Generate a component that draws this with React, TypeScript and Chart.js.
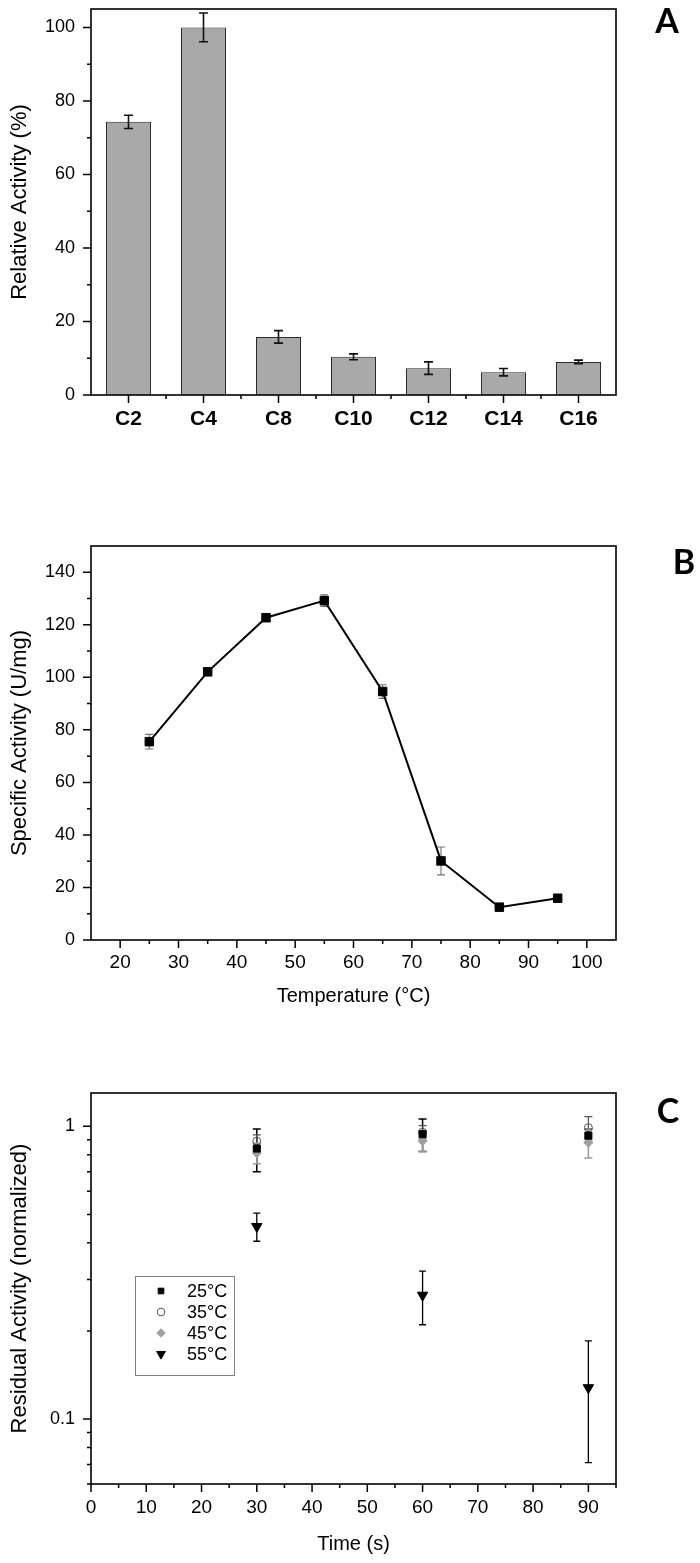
import React, { useEffect, useRef } from 'react';
import { Chart, registerables } from 'chart.js';
import { drawPoint } from 'chart.js/helpers';

Chart.register(...registerables);

const FONT = "'Liberation Sans', Arial, Helvetica, sans-serif";
const LETTER_FONT = "Lato, 'Open Sans', 'Noto Sans', sans-serif";

// ---------- Panel A data ----------
const substrates = ['C2', 'C4', 'C8', 'C10', 'C12', 'C14', 'C16'];
const relActivity = [74.3, 100, 15.8, 10.4, 7.3, 6.2, 9.0];
const relActivityErr = [1.8, 3.9, 1.7, 0.8, 1.7, 1.0, 0.5];
const aYTicks = [0, 20, 40, 60, 80, 100];
const aYMinor = [10, 30, 50, 70, 90];

// ---------- Panel B data ----------
const temperatures = [25, 35, 45, 55, 65, 75, 85, 95];
const specActivity = [75.5, 102.1, 122.7, 129.2, 94.6, 30.1, 12.5, 15.9];
const specActivityErr = [2.8, 1.2, 1.0, 2.2, 2.6, 5.3, 0.9, 1.4];
const bXTicks = [20, 30, 40, 50, 60, 70, 80, 90, 100];
const bXMinor = [25, 35, 45, 55, 65, 75, 85, 95];
const bYTicks = [0, 20, 40, 60, 80, 100, 120, 140];
const bYMinor = [10, 30, 50, 70, 90, 110, 130];

// ---------- Panel C data ----------
const times = [30, 60, 90];
const res25 = [0.84, 0.94, 0.93];
const res25Err = [0.14, 0.12, 0.05];
const res35 = [0.89, 0.955, 0.99];
const res35Err = [0.045, 0.05, 0.09];
const res45 = [0.81, 0.89, 0.88];
const res45Err = [0.065, 0.07, 0.1];
const res55 = [0.455, 0.265, 0.128];
const res55Err = [0.05, 0.055, 0.057];
const cXTicks = [0, 10, 20, 30, 40, 50, 60, 70, 80, 90];
const cXMinor = [5, 15, 25, 35, 45, 55, 65, 75, 85, 95];
const cYTicks = [0.1, 1];
const cYMinor = [0.06, 0.07, 0.08, 0.09, 0.2, 0.3, 0.4, 0.5, 0.6, 0.7, 0.8, 0.9];

type Decor = {
  letter: string;
  letterX: number;
  letterY: number;
  xMajor: number[];
  xMinor: number[];
  yMajor: number[];
  yMinor: number[];
  errors: (number[] | null)[];
  errColors: string[];
  errWidths: number[];
  capHalf: number[];
  errorsOnTop: boolean;
  legend?: { dx: number; dy: number; w: number; h: number; rowH: number; scale: number[] };
};

function makeDecor(cfg: Decor) {
  const drawErrors = (chart: any) => {
    const ctx = chart.ctx;
    ctx.save();
    chart.data.datasets.forEach((ds: any, di: number) => {
      const errs = cfg.errors[di];
      if (!errs) return;
      const meta = chart.getDatasetMeta(di);
      const yScale = chart.scales[meta.yAxisID];
      ctx.strokeStyle = cfg.errColors[di];
      ctx.lineWidth = cfg.errWidths[di];
      const half = cfg.capHalf[di];
      meta.data.forEach((el: any, i: number) => {
        const raw = ds.data[i];
        const v = typeof raw === 'number' ? raw : raw.y;
        const e = errs[i];
        const x = el.x;
        const y1 = yScale.getPixelForValue(v + e);
        const y2 = yScale.getPixelForValue(v - e);
        ctx.beginPath();
        ctx.moveTo(x, y1);
        ctx.lineTo(x, y2);
        ctx.moveTo(x - half, y1);
        ctx.lineTo(x + half, y1);
        ctx.moveTo(x - half, y2);
        ctx.lineTo(x + half, y2);
        ctx.stroke();
      });
    });
    ctx.restore();
  };

  return {
    id: 'decor' + cfg.letter,
    beforeDatasetsDraw(chart: any) {
      if (!cfg.errorsOnTop) drawErrors(chart);
    },
    afterDatasetsDraw(chart: any) {
      if (cfg.errorsOnTop) drawErrors(chart);
    },
    afterDraw(chart: any) {
      const ctx = chart.ctx;
      const a = chart.chartArea;
      const xs = chart.scales.x;
      const ys = chart.scales.y;
      ctx.save();
      ctx.strokeStyle = '#000';
      ctx.lineWidth = 1.6;
      ctx.strokeRect(a.left, a.top, a.right - a.left, a.bottom - a.top);
      ctx.lineWidth = 1.5;
      ctx.beginPath();
      const xt = (vals: number[], len: number) =>
        vals.forEach((v) => {
          const p = xs.getPixelForValue(v);
          ctx.moveTo(p, a.bottom);
          ctx.lineTo(p, a.bottom + len);
        });
      const yt = (vals: number[], len: number) =>
        vals.forEach((v) => {
          const p = ys.getPixelForValue(v);
          ctx.moveTo(a.left, p);
          ctx.lineTo(a.left - len, p);
        });
      xt(cfg.xMajor, 8);
      xt(cfg.xMinor, 4);
      yt(cfg.yMajor, 8);
      yt(cfg.yMinor, 4);
      ctx.stroke();

      // panel letter
      ctx.fillStyle = '#000';
      ctx.font = `bold 34px ${LETTER_FONT}`;
      ctx.textAlign = 'center';
      ctx.textBaseline = 'middle';
      ctx.fillText(cfg.letter, cfg.letterX, cfg.letterY);

      // legend
      if (cfg.legend) {
        const L = cfg.legend;
        const bx = a.left + L.dx;
        const by = a.top + L.dy;
        ctx.strokeStyle = '#808080';
        ctx.lineWidth = 1;
        ctx.strokeRect(bx + 0.5, by + 0.5, L.w, L.h);
        ctx.font = `18px ${FONT}`;
        ctx.textAlign = 'left';
        ctx.textBaseline = 'middle';
        chart.data.datasets.forEach((ds: any, i: number) => {
          const cy = by + 15 + L.rowH * i;
          ctx.fillStyle = ds.pointBackgroundColor;
          ctx.strokeStyle = ds.pointBorderColor;
          ctx.lineWidth = 1;
          drawPoint(
            ctx,
            {
              pointStyle: ds.pointStyle,
              rotation: ds.pointRotation || 0,
              radius: ds.pointRadius * L.scale[i],
              borderWidth: 1,
            } as any,
            bx + 26,
            cy
          );
          ctx.fillStyle = '#000';
          ctx.fillText(ds.label, bx + 52, cy + 1);
        });
      }
      ctx.restore();
    },
  };
}

function yAxis(o: {
  type: string;
  min: number;
  max: number;
  ticks: number[];
  title: string;
}) {
  return {
    type: o.type,
    min: o.min,
    max: o.max,
    bounds: 'data',
    grid: { display: false, drawTicks: false },
    border: { display: false },
    ticks: {
      padding: 16,
      color: '#000',
      font: { family: FONT, size: 18 },
      callback: (v: any) => String(v),
    },
    afterBuildTicks: (s: any) => {
      s.ticks = o.ticks.map((v) => ({ value: v }));
    },
    afterFit: (s: any) => {
      s.width = 91;
      s.paddingTop = 0;
      s.paddingBottom = 0;
    },
    title: {
      display: true,
      text: o.title,
      color: '#000',
      font: { family: FONT, size: 22 },
      padding: { top: 7, bottom: 0 },
    },
  };
}

function buildA(): any {
  return {
    type: 'bar',
    data: {
      labels: substrates,
      datasets: [
        {
          label: 'Relative Activity',
          data: relActivity,
          backgroundColor: '#a9a9a9',
          borderColor: '#2a2a2a',
          borderWidth: 1,
          barPercentage: 0.6,
          categoryPercentage: 1,
        },
      ],
    },
    options: {
      responsive: false,
      animation: false,
      layout: { padding: { left: 0, right: 84, top: 9, bottom: 0 } },
      plugins: { legend: { display: false }, tooltip: { enabled: false } },
      scales: {
        x: {
          type: 'category',
          offset: true,
          grid: { display: false, drawTicks: false, offset: true },
          border: { display: false },
          ticks: {
            padding: 12,
            color: '#000',
            font: { family: FONT, size: 21, weight: 'bold' },
          },
          afterFit: (s: any) => {
            s.height = 75;
            s.paddingLeft = 0;
            s.paddingRight = 0;
          },
        },
        y: yAxis({ type: 'linear', min: 0, max: 105, ticks: aYTicks, title: 'Relative Activity (%)' }),
      },
    },
    plugins: [
      makeDecor({
        letter: 'A',
        letterX: 667,
        letterY: 22,
        xMajor: substrates.map((_, i) => i),
        xMinor: substrates.slice(1).map((_, i) => i + 0.5),
        yMajor: aYTicks,
        yMinor: aYMinor,
        errors: [relActivityErr],
        errColors: ['#111'],
        errWidths: [1.6],
        capHalf: [4.5],
        errorsOnTop: true,
      }),
    ],
  };
}

function buildB(): any {
  return {
    type: 'line',
    data: {
      datasets: [
        {
          label: 'Specific Activity',
          data: temperatures.map((t, i) => ({ x: t, y: specActivity[i] })),
          borderColor: '#000',
          borderWidth: 2,
          pointStyle: 'rect',
          pointRadius: 6,
          pointBackgroundColor: '#000',
          pointBorderColor: '#000',
          pointBorderWidth: 1,
          tension: 0,
          fill: false,
        },
      ],
    },
    options: {
      responsive: false,
      animation: false,
      layout: { padding: { left: 0, right: 84, top: 76, bottom: 0 } },
      plugins: { legend: { display: false }, tooltip: { enabled: false } },
      scales: {
        x: {
          type: 'linear',
          min: 15,
          max: 105,
          bounds: 'data',
          grid: { display: false, drawTicks: false },
          border: { display: false },
          ticks: {
            padding: 11,
            color: '#000',
            font: { family: FONT, size: 19 },
            callback: (v: any) => String(v),
          },
          afterBuildTicks: (s: any) => {
            s.ticks = bXTicks.map((v) => ({ value: v }));
          },
          afterFit: (s: any) => {
            s.height = 90;
            s.paddingLeft = 0;
            s.paddingRight = 0;
          },
          title: {
            display: true,
            text: 'Temperature (°C)',
            color: '#000',
            font: { family: FONT, size: 20 },
            padding: { top: 0, bottom: 22 },
          },
        },
        y: yAxis({ type: 'linear', min: 0, max: 150, ticks: bYTicks, title: 'Specific Activity (U/mg)' }),
      },
    },
    plugins: [
      makeDecor({
        letter: 'B',
        letterX: 684,
        letterY: 93,
        xMajor: bXTicks,
        xMinor: bXMinor,
        yMajor: bYTicks,
        yMinor: bYMinor,
        errors: [specActivityErr],
        errColors: ['#707070'],
        errWidths: [1.1],
        capHalf: [4],
        errorsOnTop: false,
      }),
    ],
  };
}

function buildC(): any {
  const pts = (vals: number[]) => times.map((t, i) => ({ x: t, y: vals[i] }));
  return {
    type: 'scatter',
    data: {
      datasets: [
        {
          label: '25°C',
          data: pts(res25),
          pointStyle: 'rect',
          pointRadius: 5,
          pointBackgroundColor: '#000',
          pointBorderColor: '#000',
          pointBorderWidth: 1,
        },
        {
          label: '35°C',
          data: pts(res35),
          pointStyle: 'circle',
          pointRadius: 4,
          pointBackgroundColor: 'rgba(255,255,255,0)',
          pointBorderColor: '#555',
          pointBorderWidth: 1,
        },
        {
          label: '45°C',
          data: pts(res45),
          pointStyle: 'rectRot',
          pointRadius: 4.5,
          pointBackgroundColor: '#a0a0a0',
          pointBorderColor: '#a0a0a0',
          pointBorderWidth: 1,
        },
        {
          label: '55°C',
          data: pts(res55),
          pointStyle: 'triangle',
          pointRotation: 180,
          pointRadius: 6,
          pointBackgroundColor: '#000',
          pointBorderColor: '#000',
          pointBorderWidth: 1,
        },
      ],
    },
    options: {
      responsive: false,
      animation: false,
      layout: { padding: { left: 0, right: 84, top: 63, bottom: 0 } },
      plugins: { legend: { display: false }, tooltip: { enabled: false } },
      scales: {
        x: {
          type: 'linear',
          min: 0,
          max: 95,
          bounds: 'data',
          grid: { display: false, drawTicks: false },
          border: { display: false },
          ticks: {
            padding: 12,
            color: '#000',
            font: { family: FONT, size: 19 },
            callback: (v: any) => String(v),
          },
          afterBuildTicks: (s: any) => {
            s.ticks = cXTicks.map((v) => ({ value: v }));
          },
          afterFit: (s: any) => {
            s.height = 79;
            s.paddingLeft = 0;
            s.paddingRight = 0;
          },
          title: {
            display: true,
            text: 'Time (s)',
            color: '#000',
            font: { family: FONT, size: 20 },
            padding: { top: 0, bottom: 7 },
          },
        },
        y: yAxis({ type: 'logarithmic', min: 0.06, max: 1.3, ticks: cYTicks, title: 'Residual Activity (normalized)' }),
      },
    },
    plugins: [
      makeDecor({
        letter: 'C',
        letterX: 668,
        letterY: 82,
        xMajor: cXTicks,
        xMinor: cXMinor,
        yMajor: cYTicks,
        yMinor: cYMinor,
        errors: [res25Err, res35Err, res45Err, res55Err],
        errColors: ['#000', '#555', '#9a9a9a', '#000'],
        errWidths: [1.5, 1.2, 1.5, 1.3],
        capHalf: [4, 4, 4, 3.5],
        errorsOnTop: false,
        legend: { dx: 44, dy: 183, w: 99, h: 99, rowH: 21, scale: [0.8, 0.95, 0.95, 0.85] },
      }),
    ],
  };
}

function ChartPanel({ top, height, build }: { top: number; height: number; build: () => any }) {
  const ref = useRef<HTMLCanvasElement>(null);
  useEffect(() => {
    const chart = new Chart(ref.current as HTMLCanvasElement, build());
    return () => chart.destroy();
  }, []);
  return (
    <canvas
      ref={ref}
      width={700}
      height={height}
      style={{ position: 'absolute', left: 0, top, width: 700, height, display: 'block' }}
    />
  );
}

export default function App() {
  return (
    <div style={{ position: 'absolute', left: 0, top: 0, width: 700, height: 1563, background: '#fff' }}>
      <ChartPanel top={0} height={470} build={buildA} />
      <ChartPanel top={470} height={560} build={buildB} />
      <ChartPanel top={1030} height={533} build={buildC} />
    </div>
  );
}
